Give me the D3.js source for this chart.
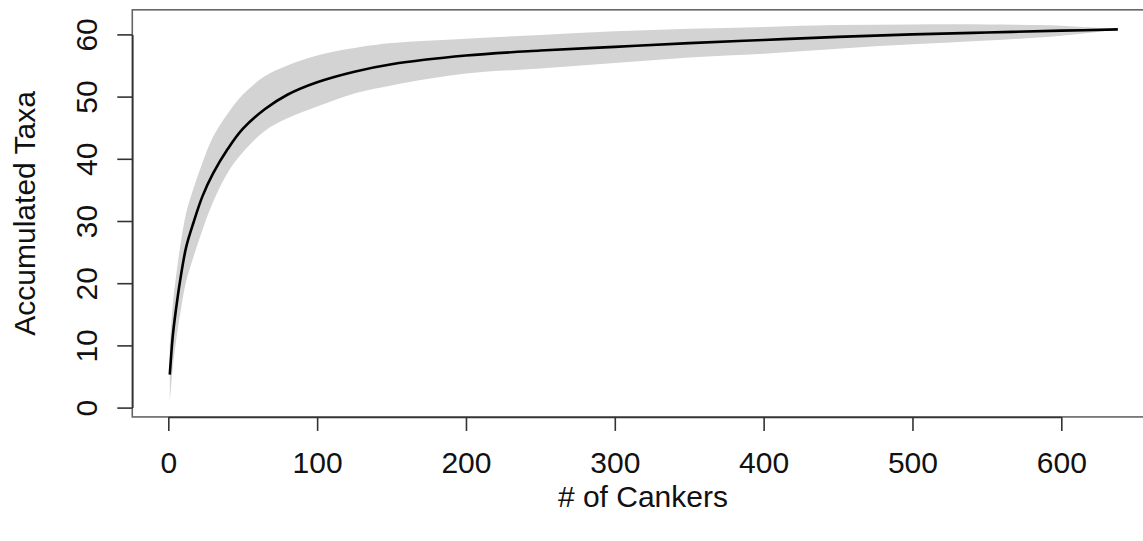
<!DOCTYPE html>
<html>
<head>
<meta charset="utf-8">
<script src="https://cdn.jsdelivr.net/npm/d3@7"></script>
<style>
  html, body { margin: 0; padding: 0; background: #fff; }
  svg { display: block; }
  text { font-family: "Liberation Sans", Arial, Helvetica, sans-serif; fill: #111; }
</style>
</head>
<body>
<svg id="chart" width="1143" height="541"></svg>
<script>
// Species accumulation: sampled canker counts with mean richness and the ±2 SD envelope
const cankers   = [1, 3, 5, 8, 12, 17, 23, 30, 40, 50, 65, 80, 100, 125, 150, 200, 250, 300, 350, 400, 450, 500, 550, 600, 638];
const meanTaxa  = [5.3, 11.5, 15.5, 20.5, 25.8, 29.8, 34.0, 37.6, 41.6, 44.8, 48.0, 50.3, 52.3, 54.0, 55.2, 56.6, 57.4, 58.0, 58.6, 59.1, 59.6, 60.0, 60.3, 60.6, 60.8];
const upperTaxa = [9.9, 16.5, 20.7, 25.9, 31.3, 35.3, 39.4, 43.5, 47.3, 50.3, 53.3, 55.0, 56.6, 57.8, 58.6, 59.3, 59.9, 60.5, 60.9, 61.2, 61.5, 61.6, 61.6, 61.4, 60.8];
const lowerTaxa = [0.7, 6.5, 10.3, 15.1, 20.3, 24.3, 28.6, 33.0, 37.8, 41.0, 44.5, 46.5, 48.4, 50.5, 51.8, 53.7, 54.5, 55.4, 56.3, 56.9, 57.7, 58.4, 59.0, 59.8, 60.8];

const xTicks = [0, 100, 200, 300, 400, 500, 600];
const yTicks = [0, 10, 20, 30, 40, 50, 60];

const rows = cankers.map((n, i) => ({ n, mean: meanTaxa[i], lo: lowerTaxa[i], hi: upperTaxa[i] }));

const svg = d3.select("#chart");

const x = d3.scaleLinear().domain([0, 600]).range([168.3, 1061.3]);
const y = d3.scaleLinear().domain([0, 60]).range([407.6, 34.4]);

// plot frame (extends past the right edge of the canvas)
const frame = { left: x(-24.2), right: x(662), top: y(63.95), bottom: y(-1.5) };

const FONT = 30;
const smooth = d3.curveCatmullRom.alpha(0.5);

// confidence envelope
svg.append("path")
  .datum(rows)
  .attr("fill", "#d3d3d3")
  .attr("stroke", "none")
  .attr("d", d3.area()
    .x(d => x(d.n))
    .y0(d => y(d.lo))
    .y1(d => y(d.hi))
    .curve(smooth));

// mean accumulation curve
svg.append("path")
  .datum(rows)
  .attr("fill", "none")
  .attr("stroke", "#000")
  .attr("stroke-width", 2.6)
  .attr("stroke-linecap", "butt")
  .attr("d", d3.line()
    .x(d => x(d.n))
    .y(d => y(d.mean))
    .curve(smooth));

// box
svg.append("rect")
  .attr("x", frame.left)
  .attr("y", frame.top)
  .attr("width", frame.right - frame.left)
  .attr("height", frame.bottom - frame.top)
  .attr("fill", "none")
  .attr("stroke", "#666")
  .attr("stroke-width", 1.6);

// x axis
const gx = svg.append("g")
  .attr("transform", `translate(0,${frame.bottom})`)
  .call(d3.axisBottom(x).tickValues(xTicks).tickSize(14).tickSizeOuter(0).tickFormat(d3.format("d")));
gx.select(".domain").attr("stroke", "#333").attr("stroke-width", 1.6);
gx.selectAll(".tick line").attr("stroke", "#333").attr("stroke-width", 1.6);
gx.selectAll(".tick text")
  .attr("y", 56)
  .attr("dy", 0)
  .attr("fill", "#111")
  .style("font-size", FONT + "px")
  .style("font-family", "'Liberation Sans', Arial, Helvetica, sans-serif");

// y axis
const gy = svg.append("g")
  .attr("transform", `translate(${frame.left},0)`)
  .call(d3.axisLeft(y).tickValues(yTicks).tickSize(15).tickSizeOuter(0).tickFormat(d3.format("d")));
gy.select(".domain").attr("stroke", "#333").attr("stroke-width", 1.6);
gy.selectAll(".tick line").attr("stroke", "#333").attr("stroke-width", 1.6);
gy.selectAll(".tick text")
  .attr("x", 0)
  .attr("dy", 0)
  .attr("text-anchor", "middle")
  .attr("transform", "translate(-35.5,0) rotate(-90)")
  .attr("fill", "#111")
  .style("font-size", FONT + "px")
  .style("font-family", "'Liberation Sans', Arial, Helvetica, sans-serif");

// axis titles
svg.append("text")
  .attr("x", (frame.left + frame.right) / 2)
  .attr("y", 507)
  .attr("text-anchor", "middle")
  .style("font-size", FONT + "px")
  .text("# of Cankers");

svg.append("text")
  .attr("transform", `translate(35,${(frame.top + frame.bottom) / 2}) rotate(-90)`)
  .attr("text-anchor", "middle")
  .style("font-size", FONT + "px")
  .text("Accumulated Taxa");
</script>
</body>
</html>
